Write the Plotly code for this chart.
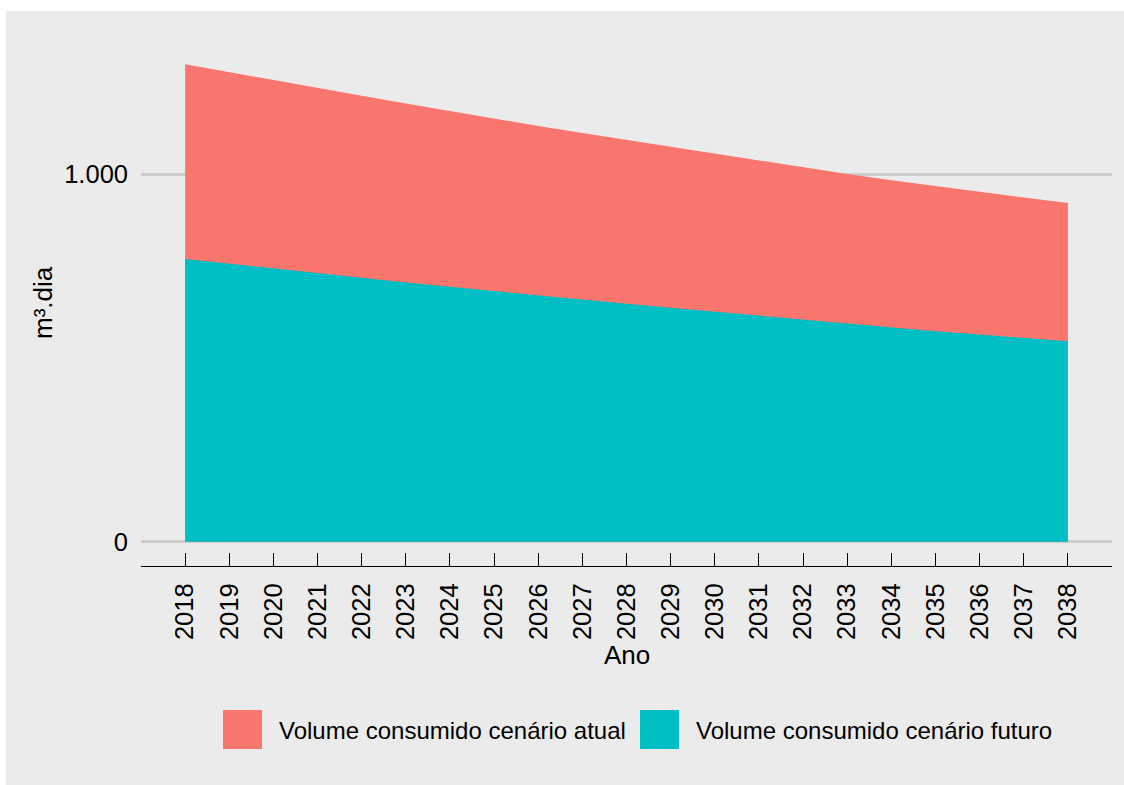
import plotly.graph_objects as go

# ---- data ----
anos = list(range(2018, 2039))
volume_atual = [1300, 1278, 1256, 1235, 1214, 1193, 1172, 1152, 1132, 1113, 1094,
                1075, 1056, 1037, 1019, 1001, 984, 968, 952, 937, 922]
volume_futuro = [770, 757, 744, 731, 719, 706, 694, 682, 670, 659, 648,
                 637, 626, 615, 604, 593, 583, 573, 564, 555, 546]
serie_nomes = ["Volume consumido cenário atual", "Volume consumido cenário futuro"]
y_tickvals = [0, 1000]
y_ticktext = ["0", "1.000"]
x_title = "Ano"
y_title = "m³.dia"

COR_ATUAL = "#F8766D"
COR_FUTURO = "#00BFC4"
FONT = "Liberation Sans, Arial, Helvetica, sans-serif"

W, H = 1124, 785
L, R, T, B = 141, 12, 40, 219
PW, PH = W - L - R, H - T - B


def px(x):
    return (x - L) / PW


def py(y):
    return (H - B - y) / PH


fig = go.Figure()
fig.add_trace(go.Scatter(x=anos, y=volume_atual, mode="lines", fill="tozeroy",
                         fillcolor=COR_ATUAL, line=dict(width=0, color=COR_ATUAL),
                         name=serie_nomes[0], showlegend=False, hoverinfo="skip"))
fig.add_trace(go.Scatter(x=anos, y=volume_futuro, mode="lines", fill="tozeroy",
                         fillcolor=COR_FUTURO, line=dict(width=0, color=COR_FUTURO),
                         name=serie_nomes[1], showlegend=False, hoverinfo="skip"))

shapes = [
    dict(type="rect", xref="paper", yref="paper", layer="below",
         x0=px(6), x1=px(1124), y0=py(785), y1=py(11),
         fillcolor="#EBEBEB", line=dict(width=0)),
    dict(type="rect", xref="paper", yref="paper", layer="above",
         x0=px(223), x1=px(262), y0=py(749), y1=py(710),
         fillcolor=COR_ATUAL, line=dict(width=0)),
    dict(type="rect", xref="paper", yref="paper", layer="above",
         x0=px(640), x1=px(679), y0=py(749), y1=py(710),
         fillcolor=COR_FUTURO, line=dict(width=0)),
]

annotations = [
    dict(text=serie_nomes[0], xref="paper", yref="paper", x=px(277), y=py(730),
         xanchor="left", yanchor="middle", showarrow=False,
         font=dict(family=FONT, size=24, color="#000000")),
    dict(text=serie_nomes[1], xref="paper", yref="paper", x=px(694), y=py(730),
         xanchor="left", yanchor="middle", showarrow=False,
         font=dict(family=FONT, size=24, color="#000000")),
    dict(text=x_title, xref="paper", yref="paper", x=px(626.5), y=py(655),
         xanchor="center", yanchor="middle", showarrow=False,
         font=dict(family=FONT, size=26, color="#000000")),
    dict(text=y_title, xref="paper", yref="paper", x=px(43), y=py(303),
         xanchor="center", yanchor="middle", showarrow=False, textangle=-90,
         font=dict(family=FONT, size=26, color="#000000")),
]

fig.update_layout(
    width=W, height=H,
    margin=dict(l=L, r=R, t=T, b=B, pad=0),
    paper_bgcolor="white", plot_bgcolor="white",
    font=dict(family=FONT, color="#000000"),
    showlegend=False,
    shapes=shapes,
    annotations=annotations,
    xaxis=dict(range=[2017, 2039], tickmode="array", tickvals=anos,
               ticktext=[str(a) for a in anos], tickangle=-90,
               ticks="inside", ticklen=13, tickwidth=1.3, tickcolor="#000000",
               showline=True, linecolor="#000000", linewidth=1.3,
               showgrid=False, zeroline=False,
               tickfont=dict(family=FONT, size=25.5, color="#000000"),
               ticklabelstandoff=6, fixedrange=True),
    yaxis=dict(range=[-66, 1366], tickmode="array", tickvals=y_tickvals,
               ticktext=y_ticktext, ticks="", showline=False,
               showgrid=True, gridcolor="#CCCCCC", gridwidth=2.5,
               zeroline=False,
               tickfont=dict(family=FONT, size=25.5, color="#000000"),
               ticklabelstandoff=12, fixedrange=True),
)

fig.write_html("out.html", config={"displayModeBar": False},
               post_script="document.body.style.margin='0';")
